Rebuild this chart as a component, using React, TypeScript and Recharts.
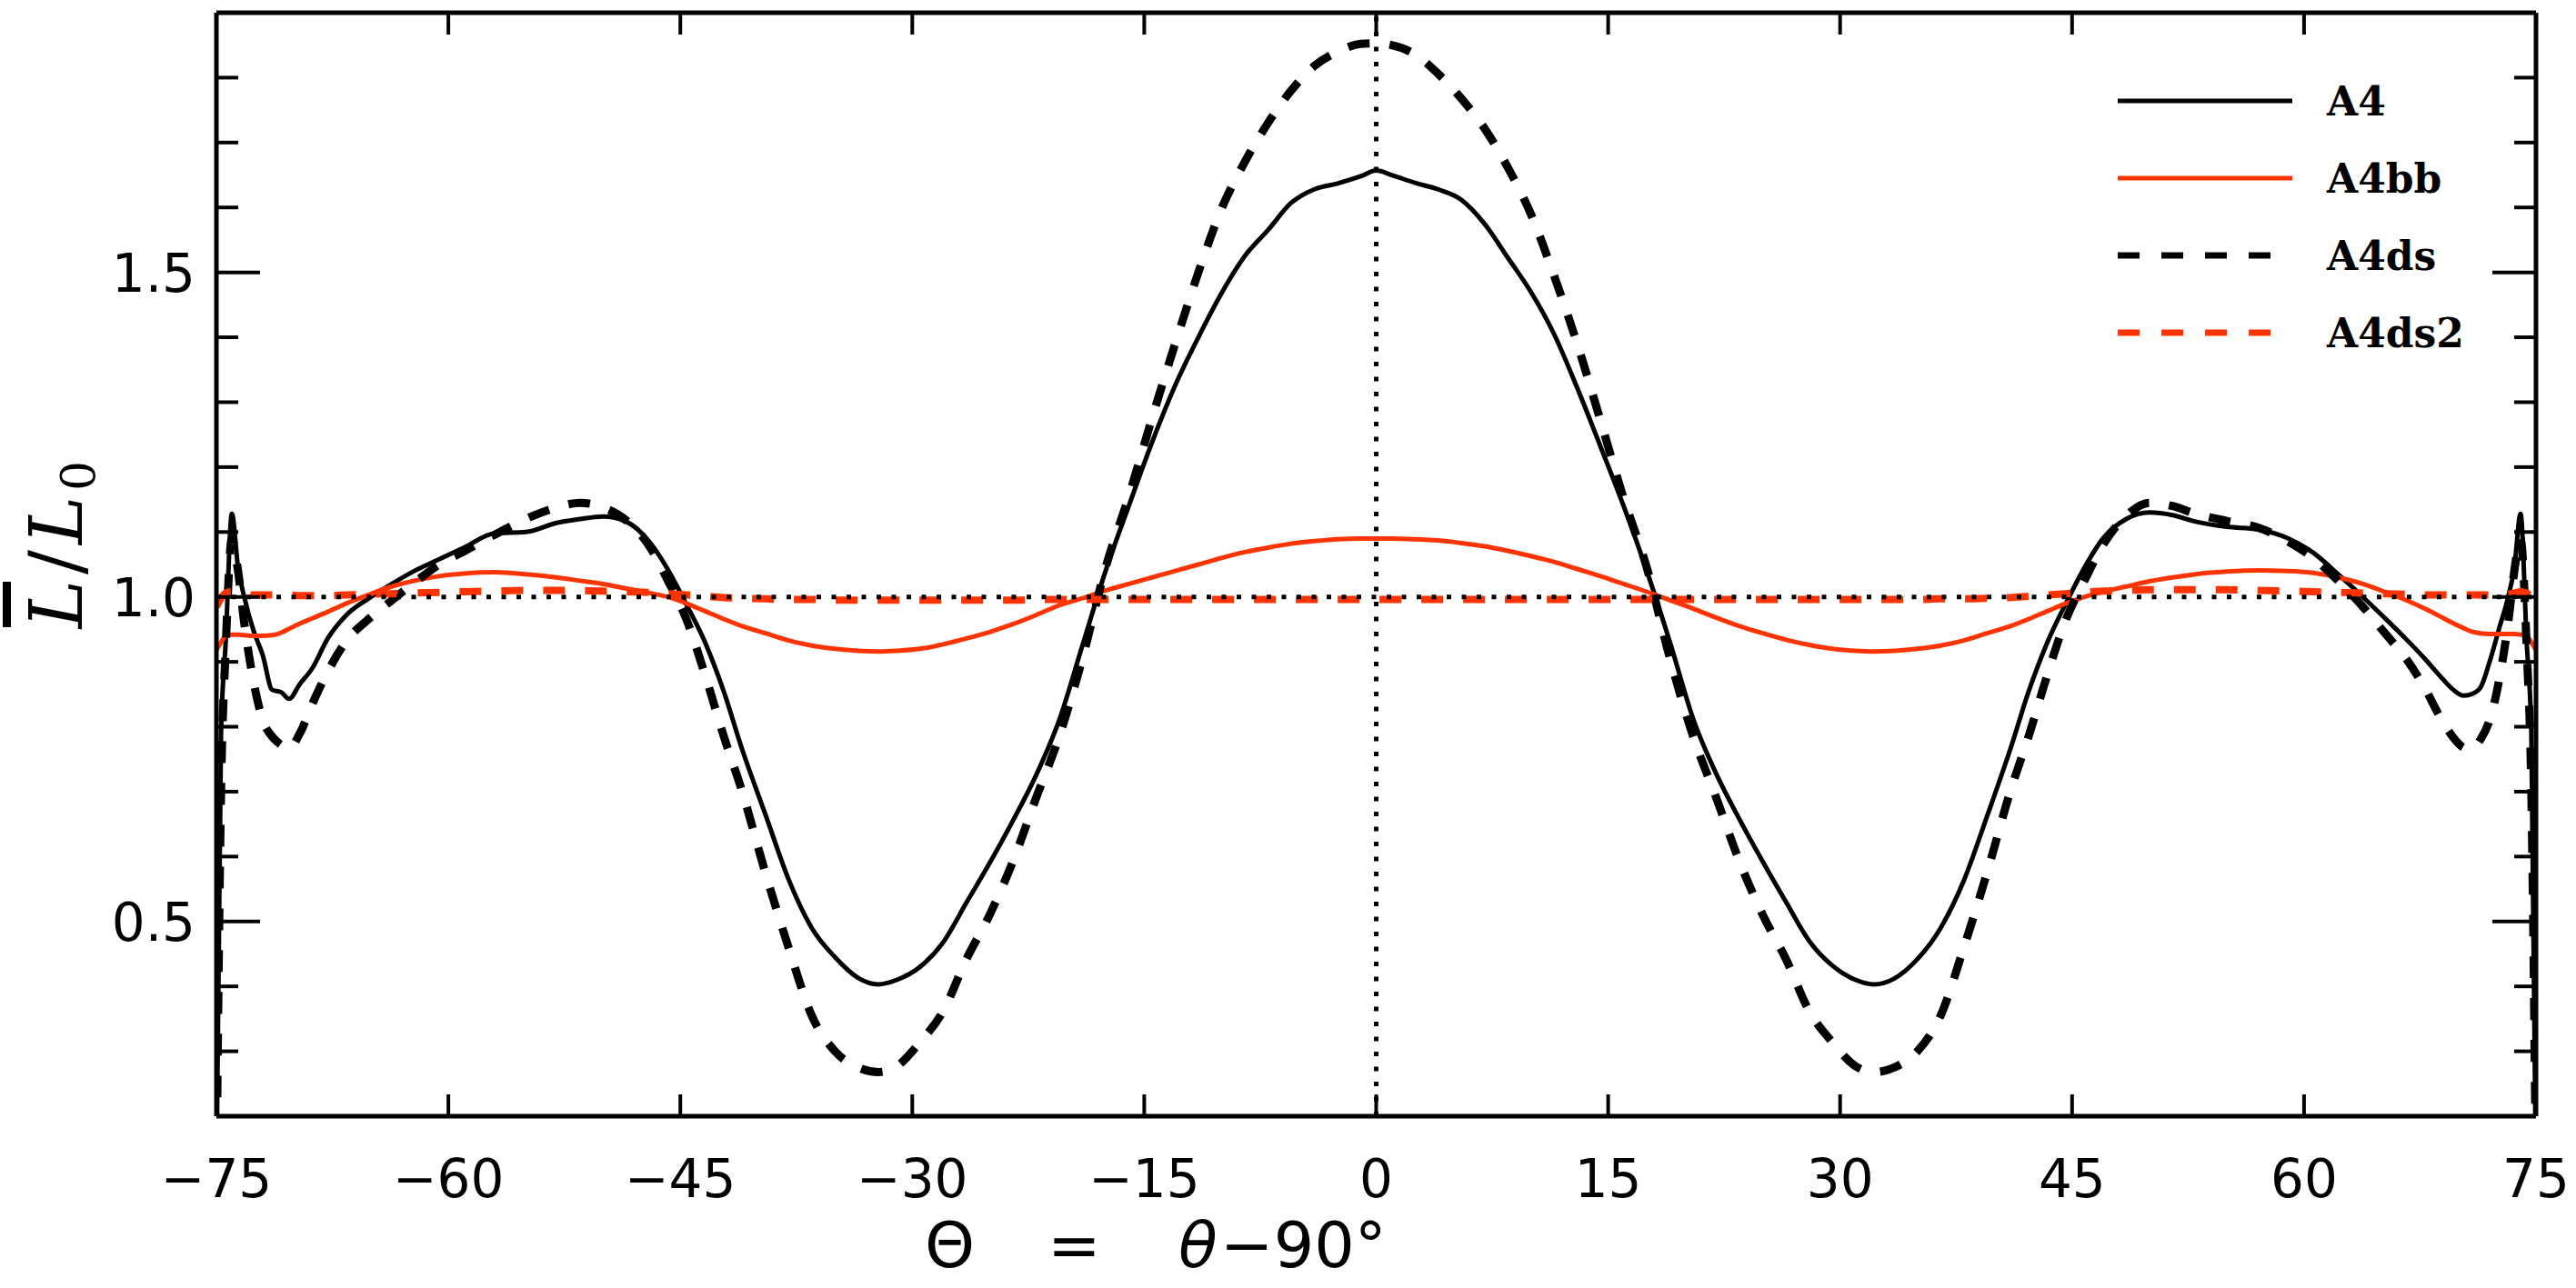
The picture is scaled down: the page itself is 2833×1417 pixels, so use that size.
import React from "react";
import {
  LineChart,
  Line,
  XAxis,
  YAxis,
  ReferenceLine,
  Legend,
  Label,
} from "recharts";

// Theta = theta - 90 (degrees), sample positions
const theta = [
  -75, -74.7, -74.4, -74, -73.6, -73.2, -72.6, -72, -71.4, -70.8,
  -70.3, -69.6, -68.8, -67.8, -66.6, -65.2, -63.8, -62.2, -60.6, -59,
  -57, -55, -53, -51.5, -50, -48.5, -47, -45.8, -44.6, -43.4,
  -42.2, -41, -39.5, -38, -36.5, -35, -33.5, -32.2, -31, -29.5,
  -28, -26.5, -25, -23.5, -22, -20.5, -19, -17.5, -16, -14.5,
  -13, -11.5, -10, -8.5, -7, -5.5, -4, -2.5, -1, 0,
  1, 2.5, 4, 5.5, 7, 8.5, 10, 11.5, 13, 14.5,
  16, 17.5, 19, 20.5, 22, 23.5, 25, 26.5, 28, 29.5,
  31, 32.2, 33.5, 35, 36.5, 38, 39.5, 41, 42.2, 43.4,
  44.6, 45.8, 47, 48.5, 50, 51.5, 53, 55, 57, 59,
  60.6, 62.2, 63.8, 65.2, 66.6, 67.8, 68.8, 69.6, 70.3, 70.8,
  71.4, 72, 72.6, 73.2, 73.6, 74, 74.4, 74.7, 75,
];

// L/L0 for each run
const a4 = [
  0.1, 0.79, 0.93, 1.128, 1.045, 1.0, 0.948, 0.91, 0.857, 0.853,
  0.843, 0.866, 0.89, 0.936, 0.972, 0.997, 1.018, 1.04, 1.058, 1.076,
  1.098, 1.1, 1.114, 1.12, 1.124, 1.116, 1.085, 1.042, 0.988, 0.93,
  0.855, 0.765, 0.665, 0.565, 0.49, 0.445, 0.413, 0.403, 0.41, 0.43,
  0.468, 0.529, 0.59, 0.655, 0.725, 0.81, 0.925, 1.04, 1.14, 1.238,
  1.326, 1.4, 1.468, 1.525, 1.565, 1.607, 1.628, 1.637, 1.648, 1.657,
  1.65, 1.638, 1.628, 1.612, 1.575, 1.523, 1.47, 1.405, 1.322, 1.232,
  1.14, 1.04, 0.93, 0.812, 0.727, 0.657, 0.592, 0.53, 0.47, 0.432,
  0.41, 0.403, 0.412, 0.442, 0.49, 0.563, 0.662, 0.765, 0.855, 0.93,
  0.99, 1.045, 1.09, 1.12, 1.13, 1.126, 1.116, 1.108, 1.104, 1.09,
  1.068, 1.035, 1.0, 0.968, 0.935, 0.905, 0.878, 0.858, 0.848, 0.85,
  0.86, 0.9, 0.95, 1.0, 1.045, 1.128, 0.93, 0.79, 0.1,
];

const a4bb = [
  0.918, 0.93, 0.94, 0.942, 0.942, 0.941, 0.94, 0.94, 0.941, 0.945,
  0.951, 0.959, 0.967, 0.977, 0.99, 1.003, 1.015, 1.025, 1.032, 1.036,
  1.038, 1.035, 1.03, 1.025, 1.02, 1.013, 1.006, 1.0, 0.99, 0.978,
  0.966, 0.955, 0.944, 0.933, 0.925, 0.92, 0.917, 0.916, 0.917, 0.92,
  0.927, 0.936, 0.946, 0.958, 0.972, 0.987, 0.998, 1.01, 1.02, 1.03,
  1.04, 1.05, 1.06, 1.069, 1.076, 1.082, 1.086, 1.089, 1.09, 1.09,
  1.09, 1.089, 1.087, 1.083, 1.078, 1.071, 1.063, 1.054, 1.043, 1.032,
  1.02, 1.008, 0.995, 0.982, 0.968, 0.955, 0.944, 0.934, 0.926, 0.92,
  0.917, 0.916, 0.917, 0.92, 0.925, 0.933, 0.944, 0.955, 0.966, 0.978,
  0.99, 1.0, 1.008, 1.016, 1.024, 1.03, 1.035, 1.039, 1.041, 1.04,
  1.037, 1.03, 1.02, 1.008, 0.995, 0.982, 0.97, 0.96, 0.952, 0.947,
  0.944, 0.943, 0.943, 0.943, 0.943, 0.942, 0.94, 0.93, 0.918,
];

const a4ds = [
  0.1, 0.7, 0.92, 1.09, 1.04, 0.96, 0.87, 0.81, 0.785, 0.772,
  0.766, 0.79, 0.835, 0.885, 0.932, 0.965, 0.992, 1.022, 1.05, 1.07,
  1.096, 1.12, 1.138, 1.145, 1.138, 1.118, 1.078, 1.025, 0.965, 0.88,
  0.786, 0.7, 0.575, 0.46, 0.355, 0.3, 0.275, 0.268, 0.277, 0.314,
  0.362, 0.442, 0.51, 0.592, 0.69, 0.785, 0.905, 1.045, 1.155, 1.275,
  1.39, 1.5, 1.598, 1.67, 1.73, 1.78, 1.818, 1.84, 1.852, 1.853,
  1.85, 1.836, 1.806, 1.768, 1.722, 1.662, 1.59, 1.495, 1.39, 1.272,
  1.152, 1.045, 0.905, 0.785, 0.69, 0.592, 0.51, 0.442, 0.362, 0.314,
  0.277, 0.268, 0.275, 0.3, 0.355, 0.46, 0.575, 0.7, 0.786, 0.88,
  0.965, 1.025, 1.08, 1.125, 1.145, 1.14, 1.128, 1.117, 1.107, 1.085,
  1.06, 1.025, 0.985, 0.945, 0.905, 0.86, 0.815, 0.785, 0.768, 0.765,
  0.78, 0.81, 0.87, 0.96, 1.04, 1.09, 0.92, 0.7, 0.1,
];

const a4ds2 = [
  0.985, 0.998, 1.006, 1.008, 1.006, 1.004, 1.003, 1.003, 1.003, 1.003,
  1.003, 1.002, 1.002, 1.002, 1.003, 1.004, 1.005, 1.006, 1.007, 1.008,
  1.009, 1.01, 1.01, 1.01, 1.009, 1.008, 1.007, 1.005, 1.003, 1.001,
  0.999, 0.998, 0.997, 0.996, 0.996, 0.995, 0.995, 0.995, 0.995, 0.995,
  0.995, 0.995, 0.995, 0.995, 0.996, 0.996, 0.996, 0.996, 0.996, 0.996,
  0.996, 0.996, 0.996, 0.996, 0.996, 0.996, 0.996, 0.996, 0.996, 0.996,
  0.996, 0.996, 0.996, 0.996, 0.996, 0.996, 0.996, 0.996, 0.996, 0.996,
  0.996, 0.996, 0.996, 0.996, 0.996, 0.996, 0.996, 0.996, 0.996, 0.996,
  0.996, 0.996, 0.996, 0.996, 0.997, 0.997, 0.998, 0.999, 1.001, 1.003,
  1.005, 1.007, 1.009, 1.01, 1.011, 1.011, 1.011, 1.011, 1.01, 1.009,
  1.008, 1.007, 1.006, 1.005, 1.004, 1.003, 1.003, 1.003, 1.003, 1.003,
  1.003, 1.003, 1.003, 1.004, 1.006, 1.008, 1.006, 0.998, 0.985,
];

const xTicks = [-75, -60, -45, -30, -15, 0, 15, 30, 45, 60, 75];
const yTicks = [0.3, 0.4, 0.5, 0.6, 0.7, 0.8, 0.9, 1.0, 1.1, 1.2, 1.3, 1.4, 1.5, 1.6, 1.7, 1.8];
const yLabelled = [0.5, 1.0, 1.5];

const series = [
  { key: "a4", name: "A4", color: "#000000", width: 5, dash: undefined },
  { key: "a4bb", name: "A4bb", color: "#ff3300", width: 5, dash: undefined },
  { key: "a4ds", name: "A4ds", color: "#000000", width: 9, dash: "24 22" },
  { key: "a4ds2", name: "A4ds2", color: "#ff3300", width: 8, dash: "24 22" },
];

const rows = theta.map((t, i) => ({
  theta: t,
  a4: a4[i],
  a4bb: a4bb[i],
  a4ds: a4ds[i],
  a4ds2: a4ds2[i],
}));

const tickFont = { fontFamily: "DejaVu Sans", fontSize: 58, fill: "#000" };
const minus = (v: number) => (v < 0 ? "\u2212" + Math.abs(v) : String(v));
const isLabelled = (v: number) => yLabelled.some((m) => Math.abs(m - v) < 1e-6);

// custom ticks: inward tick marks, labels outside
const BottomTick = (p: any) => (
  <g>
    <line x1={p.x} x2={p.x} y1={p.y} y2={p.y - 24} stroke="#000" strokeWidth={4} />
    <text x={p.x} y={p.y + 89} textAnchor="middle" {...tickFont}>
      {minus(p.payload.value)}
    </text>
  </g>
);

const TopTick = (p: any) => (
  <line x1={p.x} x2={p.x} y1={p.y} y2={p.y + 24} stroke="#000" strokeWidth={4} />
);

const LeftTick = (p: any) => {
  const v = p.payload.value;
  const major = isLabelled(v);
  return (
    <g>
      <line x1={p.x} x2={p.x + (major ? 48 : 24)} y1={p.y} y2={p.y} stroke="#000" strokeWidth={4} />
      {major && (
        <text x={p.x - 23} y={p.y} dy="0.36em" textAnchor="end" {...tickFont}>
          {v.toFixed(1)}
        </text>
      )}
    </g>
  );
};

const RightTick = (p: any) => {
  const major = isLabelled(p.payload.value);
  return (
    <line x1={p.x} x2={p.x - (major ? 48 : 24)} y1={p.y} y2={p.y} stroke="#000" strokeWidth={4} />
  );
};

const XTitle = () => (
  <text y={1394} fontFamily="DejaVu Sans" fontSize={70} fill="#000">
    <tspan x={1017}>{"\u0398"}</tspan>
    <tspan x={1152}>=</tspan>
    <tspan x={1296} fontStyle="italic">{"\u03b8"}</tspan>
    <tspan x={1342}>{"\u221290\u00b0"}</tspan>
  </text>
);

const YTitle = () => (
  <g>
    <rect x={3} y={640} width={9} height={50} fill="#000" />
    <text
      transform="rotate(-90)"
      x={-596}
      y={90}
      textAnchor="middle"
      fontFamily="DejaVu Serif"
      fontSize={80}
      letterSpacing={6}
      fill="#000"
    >
      <tspan fontStyle="italic">L</tspan>
      <tspan>/</tspan>
      <tspan fontStyle="italic">L</tspan>
      <tspan fontSize={52} dy={14}>0</tspan>
    </text>
  </g>
);

const LegendBox = () => (
  <svg width={520} height={360}>
    {series.map((s, i) => {
      const y = 51 + i * 85;
      return (
        <g key={s.key}>
          <line
            x1={29}
            x2={221}
            y1={y}
            y2={y}
            stroke={s.color}
            strokeWidth={s.dash ? 7 : 5}
            strokeDasharray={s.dash ? "24 24" : undefined}
          />
          <text
            x={259}
            y={y + 16}
            fontFamily="DejaVu Serif"
            fontWeight="bold"
            fontSize={44}
            fill="#000"
          >
            {s.name}
          </text>
        </g>
      );
    })}
  </svg>
);

export default function App() {
  return (
    <div style={{ position: "absolute", left: 0, top: 0, width: 2833, height: 1417, background: "#fff" }}>
      <LineChart
        width={2833}
        height={1417}
        data={rows}
        margin={{ top: 13, right: 43, bottom: 0, left: 0 }}
      >
        <XAxis
          xAxisId="b"
          dataKey="theta"
          type="number"
          domain={[-75, 75]}
          allowDataOverflow
          ticks={xTicks}
          interval={0}
          height={189}
          tickSize={0}
          tickMargin={0}
          tickLine={false}
          tick={BottomTick}
          axisLine={{ stroke: "#000", strokeWidth: 5 }}
        >
          <Label content={XTitle} />
        </XAxis>
        <XAxis
          xAxisId="t"
          orientation="top"
          dataKey="theta"
          type="number"
          domain={[-75, 75]}
          allowDataOverflow
          ticks={xTicks}
          interval={0}
          height={1}
          tickSize={0}
          tickMargin={0}
          tickLine={false}
          tick={TopTick}
          axisLine={{ stroke: "#000", strokeWidth: 5 }}
        />
        <YAxis
          yAxisId="l"
          type="number"
          domain={[0.2, 1.9]}
          allowDataOverflow
          ticks={yTicks}
          interval={0}
          width={238}
          tickSize={0}
          tickMargin={0}
          tickLine={false}
          tick={LeftTick}
          axisLine={{ stroke: "#000", strokeWidth: 5 }}
        >
          <Label content={YTitle} />
        </YAxis>
        <YAxis
          yAxisId="r"
          orientation="right"
          type="number"
          domain={[0.2, 1.9]}
          allowDataOverflow
          ticks={yTicks}
          interval={0}
          width={1}
          tickSize={0}
          tickMargin={0}
          tickLine={false}
          tick={RightTick}
          axisLine={{ stroke: "#000", strokeWidth: 5 }}
        />
        {series.map((s) => (
          <Line
            key={s.key}
            xAxisId="b"
            yAxisId="l"
            dataKey={s.key}
            name={s.name}
            type="monotone"
            stroke={s.color}
            strokeWidth={s.width}
            strokeDasharray={s.dash}
            dot={false}
            activeDot={false}
            isAnimationActive={false}
          />
        ))}
        <ReferenceLine xAxisId="b" yAxisId="l" y={1} stroke="#000" strokeWidth={5} strokeDasharray="5 11.5" />
        <ReferenceLine xAxisId="b" yAxisId="l" x={0} stroke="#000" strokeWidth={5} strokeDasharray="5 11.5" />
        <Legend
          layout="vertical"
          align="center"
          verticalAlign="middle"
          content={LegendBox}
          wrapperStyle={{ position: "absolute", left: 2300, top: 60, width: 520, height: 360 }}
        />
      </LineChart>
    </div>
  );
}
